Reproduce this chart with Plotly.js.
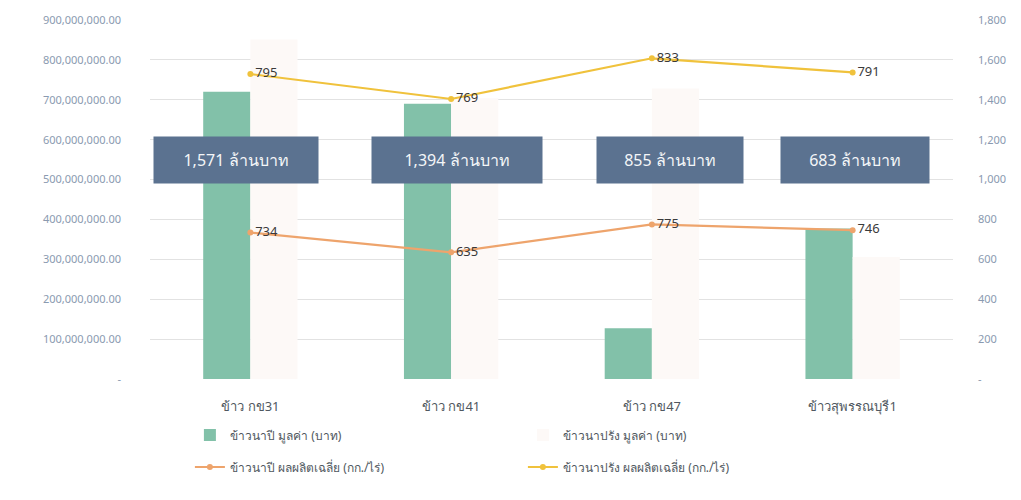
<!DOCTYPE html>
<html>
<head>
<meta charset="utf-8">
<script src="https://cdn.plot.ly/plotly-3.0.1.min.js"></script>
<style>html,body{margin:0;padding:0;background:#fff;}#chart{width:1021px;height:500px;}</style>
</head>
<body>
<div id="chart"></div>
<script>
const categories = ["ข้าว กข31", "ข้าว กข41", "ข้าว กข47", "ข้าวสุพรรณบุรี1"];
const napiValue = [720000000, 690000000, 127000000, 377000000];
const naprangValue = [851000000, 704000000, 728000000, 306000000];
const napiYield = [734, 635, 775, 746];
const naprangYield = [795, 769, 833, 791];
const totalLabels = ["1,571", "1,394", "855", "683"];
const leftTicks = [0, 100000000, 200000000, 300000000, 400000000, 500000000, 600000000, 700000000, 800000000, 900000000];
const leftTickText = ["-", "100,000,000.00", "200,000,000.00", "300,000,000.00", "400,000,000.00", "500,000,000.00", "600,000,000.00", "700,000,000.00", "800,000,000.00", "900,000,000.00"];
const rightTicks = [0, 200, 400, 600, 800, 1000, 1200, 1400, 1600, 1800];
const rightTickText = ["-", "200", "400", "600", "800", "1,000", "1,200", "1,400", "1,600", "1,800"];
const seriesNames = ["ข้าวนาปี มูลค่า (บาท)", "ข้าวนาปรัง มูลค่า (บาท)", "ข้าวนาปี ผลผลิตเฉลี่ย (กก./ไร่)", "ข้าวนาปรัง ผลผลิตเฉลี่ย (กก./ไร่)"];

const FONT = "Noto Sans, Tahoma, sans-serif";
const traces = [
  {type: "bar", x: categories, y: napiValue, name: seriesNames[0], marker: {color: "#82c1a9"}, yaxis: "y", legend: "legend"},
  {type: "bar", x: categories, y: naprangValue, name: seriesNames[1], marker: {color: "#fdf9f7"}, yaxis: "y", legend: "legend"},
  {type: "scatter", mode: "lines+markers+text", x: categories, y: napiYield, name: seriesNames[2], yaxis: "y2", legend: "legend2",
   stackgroup: "yield", fill: "none", line: {color: "#eea46c", width: 2.2}, marker: {color: "#eea46c", size: 6},
   text: napiYield.map(String), textposition: "middle right", textfont: {color: "#3a3a3a", size: 13, family: FONT}, hoverinfo: "skip"},
  {type: "scatter", mode: "lines+markers+text", x: categories, y: naprangYield, name: seriesNames[3], yaxis: "y2", legend: "legend2",
   stackgroup: "yield", fill: "none", line: {color: "#f0c23c", width: 2.2}, marker: {color: "#f0c23c", size: 6},
   text: naprangYield.map(String), textposition: "middle right", textfont: {color: "#3a3a3a", size: 13, family: FONT}, hoverinfo: "skip"}
];

const boxShift = [-14, 6, 18, 2];
const boxWidth = [152, 158, 134, 136];
const annotations = categories.map((c, i) => ({
  x: c, xref: "x", y: 550000000, yref: "y", text: totalLabels[i] + " ล้านบาท", showarrow: false,
  xshift: boxShift[i], bgcolor: "#5b7290", font: {color: "#f4f6f8", size: 16, family: FONT},
  width: boxWidth[i], height: 34, borderpad: 6
}));

const legendCommon = {orientation: "h", xref: "container", yref: "container", xanchor: "left", yanchor: "middle",
  entrywidth: 288, font: {size: 12, color: "#505860", family: FONT}, traceorder: "normal", bgcolor: "rgba(0,0,0,0)"};

const layout = {
  width: 1021, height: 500,
  margin: {l: 150, r: 68, t: 20, b: 121},
  paper_bgcolor: "#ffffff", plot_bgcolor: "#ffffff",
  font: {family: FONT, color: "#5a6a80"},
  barmode: "group", bargap: 0.53, bargroupgap: 0,
  showlegend: true,
  legend: Object.assign({}, legendCommon, {x: 0.186, y: 0.13}),
  legend2: Object.assign({}, legendCommon, {x: 0.186, y: 0.066}),
  xaxis: {type: "category", showgrid: false, zeroline: false, showline: false, ticks: "", ticklabelstandoff: 18,
    tickfont: {size: 13, color: "#505860", family: FONT}},
  yaxis: {range: [0, 900000000], tickvals: leftTicks, ticktext: leftTickText, showgrid: true, gridcolor: "#e2e2e2",
    zeroline: false, ticks: "", ticklabelstandoff: 28, tickfont: {size: 11, color: "#8a9ab0", family: FONT}},
  yaxis2: {range: [0, 1800], tickvals: rightTicks, ticktext: rightTickText, overlaying: "y", side: "right", showgrid: false,
    zeroline: false, ticks: "", ticklabelstandoff: 24, tickfont: {size: 11, color: "#8a9ab0", family: FONT}},
  annotations: annotations
};

Plotly.newPlot("chart", traces, layout, {displayModeBar: false, staticPlot: true});
</script>
</body>
</html>
